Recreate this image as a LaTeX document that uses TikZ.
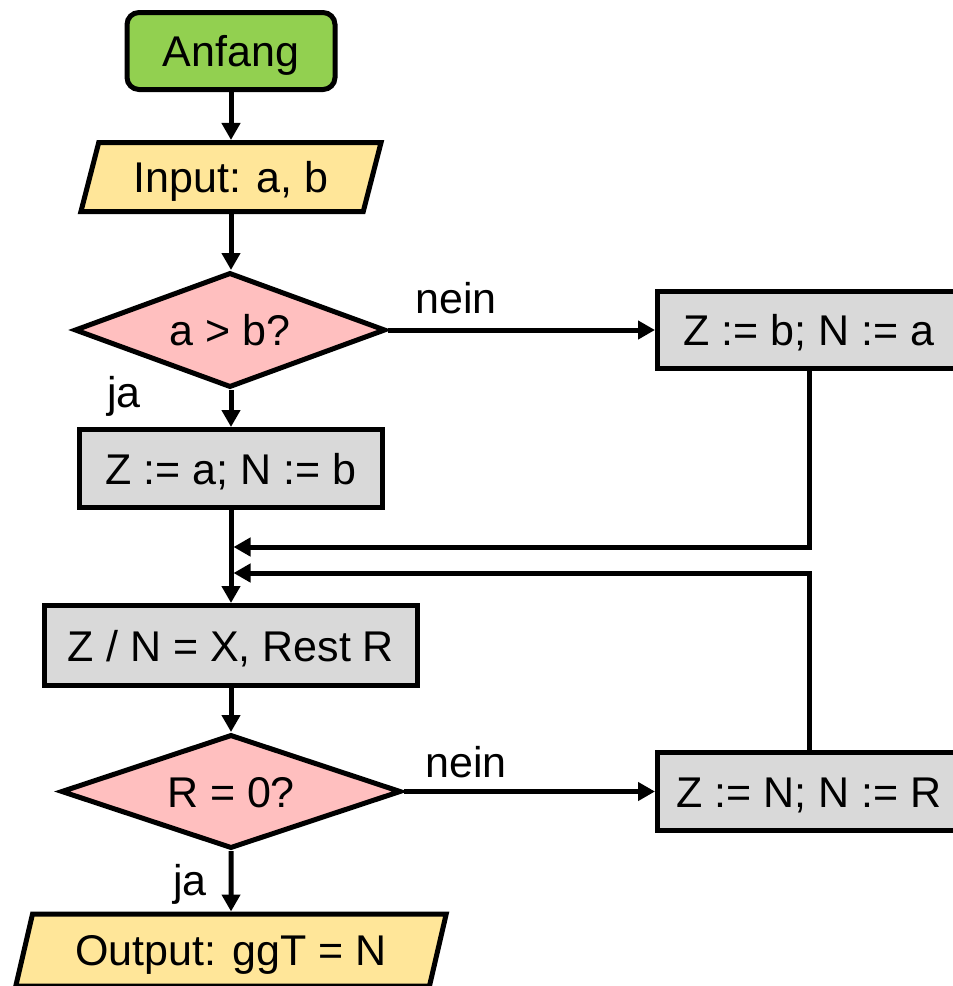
\documentclass[tikz,border=0pt]{standalone}
\usepackage{fontspec}
\setmainfont{Liberation Sans}
\usetikzlibrary{shapes.geometric, arrows.meta, positioning, calc}
\definecolor{start-green}{HTML}{92D050}
\definecolor{io-yellow}{HTML}{FFE699}
\definecolor{proc-gray}{HTML}{D9D9D9}
\definecolor{dec-pink}{HTML}{FFBFBF}

\begin{document}
\begin{tikzpicture}[x=1pt, y=-1pt,
    base/.style={draw=black, line width=5pt, inner sep=0pt,
                 font=\fontsize{43pt}{50pt}\selectfont,
                 text height=40pt, text depth=9pt},
    startbox/.style={base, rectangle, rounded corners=12pt, fill=start-green,
                     minimum width=208pt, minimum height=77pt},
    iobox/.style={base, trapezium, trapezium left angle=75,
                  trapezium right angle=105, trapezium stretches=true,
                  fill=io-yellow, minimum height=69pt},
    procbox/.style={base, rectangle, fill=proc-gray, minimum height=78pt},
    decision/.style={base, diamond, aspect=2.6, fill=dec-pink},
    lbl/.style={font=\fontsize{43pt}{50pt}\selectfont, inner sep=0pt,
                anchor=base west},
    flow/.style={line width=5pt, -{Triangle[length=17pt, width=18pt]}}]
  \useasboundingbox (0,0) rectangle (953,986);

  % main column
  \node[startbox] (start) at (231,51) {Anfang};
  \node[iobox, minimum width=301pt] (in) at (231,177) {Input: a, b};
  \node[decision, minimum width=311pt, minimum height=115pt] (ab?) at (230,330) {a > b?};
  \node[procbox, minimum width=303pt] (za) at (231,468.5) {Z := a; N := b};
  \node[procbox, minimum width=373pt, minimum height=80pt] (div) at (231,645.5) {Z / N = X, Rest R};
  \node[decision, minimum width=340pt, minimum height=114pt] (r0?) at (231,791.5) {R = 0?};
  \node[iobox, minimum width=431pt, minimum height=72pt] (out) at (231,950) {Output: ggT = N};

  % right column
  \node[procbox, minimum width=303pt, minimum height=77pt] (zb) at (809,330) {Z := b; N := a};
  \node[procbox, minimum width=303pt] (zn) at (809,791.5) {Z := N; N := R};

  % labels
  \node[lbl] (nein1) at (415,313) {nein};
  \node[lbl] (ja1) at (107,407) {ja};
  \node[lbl] (nein2) at (425,777) {nein};
  \node[lbl] (ja2) at (173,895) {ja};

  % joins on the main line
  \coordinate (m1) at (233.5,547);
  \coordinate (m2) at (233.5,573);

  \draw[flow] (start) -- (in);
  \draw[flow] (in) -- (in |- ab?.north);
  \draw[flow] (ab?.east) -- (zb.west);
  \draw[flow] (ab?.south -| za) -- (za);
  \draw[flow] (za) -- (div);
  \draw[flow] (zb.south) |- (m1);
  \draw[flow] (zn.north) |- (m2);
  \draw[flow] (div) -- (r0?);
  \draw[flow] (r0?.east) -- (zn.west);
  \draw[flow] (r0?) -- (out);
\end{tikzpicture}
\end{document}
